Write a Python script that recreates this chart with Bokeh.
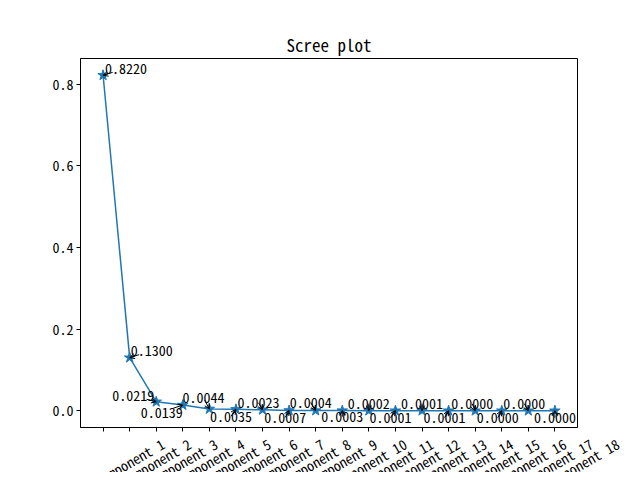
import math
from bokeh.plotting import figure
from bokeh.layouts import column
from bokeh.models import ColumnDataSource, FixedTicker, Arrow, OpenHead, Range1d
from bokeh.core.properties import value
from bokeh.embed import file_html
from bokeh.resources import INLINE

# ---- data ----
components = ["component %d" % i for i in range(1, 19)]
ratios = [0.8220, 0.1300, 0.0219, 0.0139, 0.0044, 0.0035, 0.0023, 0.0007, 0.0004,
          0.0003, 0.0002, 0.0001, 0.0001, 0.0001, 0.0000, 0.0000, 0.0000, 0.0000]
y_ticks = [0.0, 0.2, 0.4, 0.6, 0.8]
y_tick_labels = ["0.0", "0.2", "0.4", "0.6", "0.8"]

# value-label placement (screen px: text left edge / text centre relative to point)
label_dx = [2, 1, -44, -42, -27, -26, -25, -25, -26, -21, -21, -26, -21, -25, -24, -25, -25, -21]
label_dy = [-7, -7, -6, 7, -11, 7, -7, 7, -8, 6, -7, 7, -7, 7, -7, 7, -7, 7]

FONT = "'Noto Sans Mono CJK SC', 'Noto Sans Mono CJK JP', 'DejaVu Sans Mono', monospace"
BLUE = "#1f77b4"

n = len(ratios)
xs = list(range(n))
x0, x1 = -0.05 * (n - 1), (n - 1) * 1.05
ymax = max(ratios)
y0, y1 = -0.05 * ymax, ymax * 1.05
W = 632
LEFT, TOP, FW, FH, BOT = 80, 58, 497, 369, 5
H2 = 40

p = figure(width=W, height=TOP + FH + BOT, frame_width=FW, frame_height=FH,
           x_range=Range1d(x0, x1), y_range=Range1d(y0, y1),
           output_backend="svg", toolbar_location=None,
           min_border_left=LEFT, min_border_right=W - LEFT - FW,
           min_border_top=TOP, min_border_bottom=BOT,
           title="Scree plot")
p.frame_align = False
p.title.align = "center"
p.title.text_font = FONT
p.title.text_font_size = "17px"
p.title.text_font_style = "normal"
p.title.text_color = "black"
p.title.standoff = 4
p.background_fill_color = "white"
p.border_fill_color = "white"
p.outline_line_color = "black"
p.outline_line_width = 1
p.xgrid.visible = False
p.ygrid.visible = False

for ax in (p.xaxis[0], p.yaxis[0]):
    ax.axis_line_color = "black"
    ax.major_tick_line_color = "black"
    ax.major_tick_out = 4
    ax.major_tick_in = 0
    ax.minor_tick_line_color = None
    ax.major_label_text_font = FONT
    ax.major_label_text_font_size = "14px"
    ax.major_label_text_color = "black"

p.xaxis.ticker = FixedTicker(ticks=xs)
p.xaxis.major_label_overrides = {i: "" for i in xs}
p.xaxis.major_label_text_font_size = "0px"
p.xaxis.major_label_standoff = 0
p.yaxis.ticker = FixedTicker(ticks=y_ticks)
p.yaxis.major_label_overrides = {t: l for t, l in zip(y_ticks, y_tick_labels)}
p.yaxis.major_label_standoff = 3

# line + star markers
p.line(xs, ratios, line_color=BLUE, line_width=1.5)
p.scatter(xs, ratios, marker="star", size=11, fill_color=BLUE, line_color=BLUE)

# value labels
texts = ["%.4f" % v for v in ratios]
src = ColumnDataSource(dict(x=xs, y=ratios, text=texts, dx=label_dx, dy=label_dy))
p.text(x="x", y="y", text="text", x_offset="dx", y_offset="dy", source=src,
       text_font=value(FONT), text_font_size="14px", text_align="left",
       text_baseline="middle", text_color="black")

# arrows from label towards point
px_x = FW / (x1 - x0)
px_y = FH / (y1 - y0)
char_w = 7.0
xs_s, ys_s = [], []
for i, v in enumerate(ratios):
    cx = label_dx[i] + len(texts[i]) * char_w / 2.0
    cy = label_dy[i]
    d = math.hypot(cx, cy)
    f = min(1.0, 10.0 / d)
    xs_s.append(i + cx * f / px_x)
    ys_s.append(v - cy * f / px_y)
asrc = ColumnDataSource(dict(xs=xs_s, ys=ys_s, xe=xs, ye=ratios))
p.add_layout(Arrow(x_start="xs", y_start="ys", x_end="xe", y_end="ye", source=asrc,
                   line_color="black", line_width=1,
                   end=OpenHead(size=5, line_color="black", line_width=1)))

# ---- strip below the axes carrying the rotated category labels ----
# same horizontal scale as the main plot, spanning the whole width
q = figure(width=W, height=H2, frame_width=W, frame_height=H2,
           x_range=Range1d(x0 - LEFT / px_x, x0 + (W - LEFT) / px_x),
           y_range=Range1d(0, H2),
           output_backend="svg", toolbar_location=None,
           x_axis_type=None, y_axis_type=None,
           min_border_left=0, min_border_right=0, min_border_top=0, min_border_bottom=0)
q.frame_align = False
q.outline_line_color = None
q.xgrid.visible = False
q.ygrid.visible = False
q.background_fill_color = "white"
q.border_fill_color = "white"

ang = math.radians(30)
lab_x = list(range(1, n + 1))   # labels sit one tick to the right, as in the original
lab_y = []
for s in components:
    w = len(s) * char_w
    hgt = w * math.sin(ang) + 14 * math.cos(ang)
    centre_below_frame = 4 + 5 + hgt / 2.0
    lab_y.append(H2 - (centre_below_frame - BOT))
lsrc = ColumnDataSource(dict(x=lab_x, y=lab_y, text=components))
q.text(x="x", y="y", text="text", source=lsrc, angle=ang,
       text_align="center", text_baseline="middle",
       text_font=value(FONT), text_font_size="14px", text_color="black")

layout = column(p, q, spacing=0)
open("out.html", "w").write(file_html(layout, INLINE))
